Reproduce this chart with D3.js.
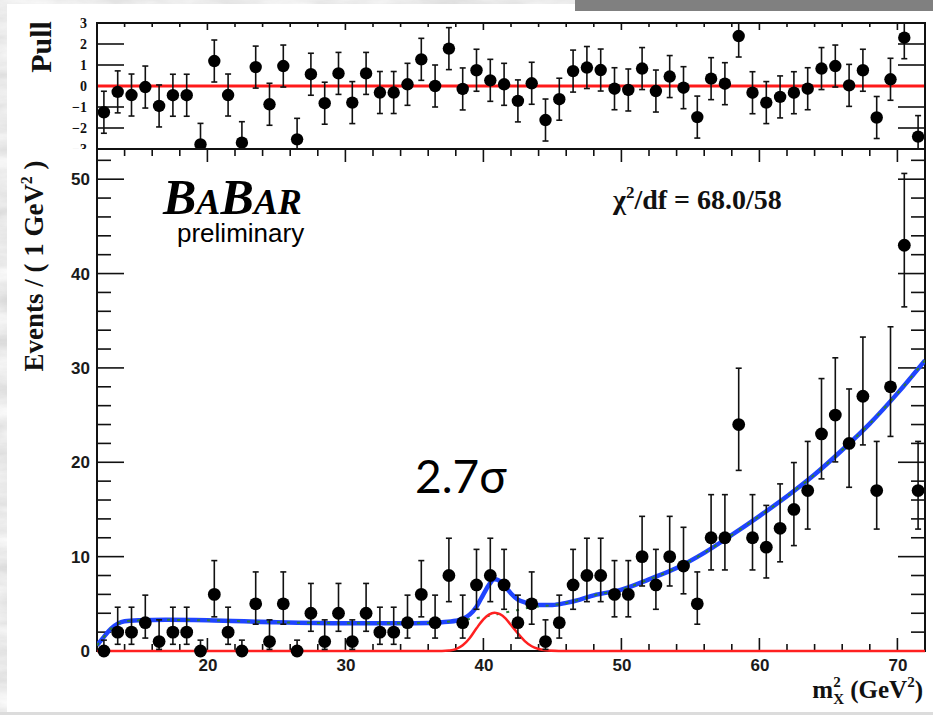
<!DOCTYPE html>
<html>
<head>
<meta charset="utf-8">
<script src="https://cdn.jsdelivr.net/npm/d3@7"></script>
<style>
  html, body { margin: 0; padding: 0; background: #fff; }
  svg { display: block; }
</style>
</head>
<body>
<svg id="chart" width="933" height="715"></svg>
<script>
// ---- Data: m_X^2 spectrum in 1 GeV^2 bins, fit projection and pulls ----
const binCenters = [
  12.5, 13.5, 14.5, 15.5, 16.5, 17.5, 18.5, 19.5, 20.5, 21.5,
  22.5, 23.5, 24.5, 25.5, 26.5, 27.5, 28.5, 29.5, 30.5, 31.5,
  32.5, 33.5, 34.5, 35.5, 36.5, 37.5, 38.5, 39.5, 40.5, 41.5,
  42.5, 43.5, 44.5, 45.5, 46.5, 47.5, 48.5, 49.5, 50.5, 51.5,
  52.5, 53.5, 54.5, 55.5, 56.5, 57.5, 58.5, 59.5, 60.5, 61.5,
  62.5, 63.5, 64.5, 65.5, 66.5, 67.5, 68.5, 69.5, 70.5, 71.5
];
const counts = [
  0, 2, 2, 3, 1, 2, 2, 0, 6, 2,
  0, 5, 1, 5, 0, 4, 1, 4, 1, 4,
  2, 2, 3, 6, 3, 8, 3, 7, 8, 7,
  3, 5, 1, 3, 7, 8, 8, 6, 6, 10,
  7, 10, 9, 5, 12, 12, 24, 12, 11, 13,
  15, 17, 23, 25, 22, 27, 17, 28, 43, 17
];
// asymmetric (Poisson) error bars
const errLow = [
  0, 1.29, 1.29, 1.63, 0.83, 1.29, 1.29, 0, 2.38, 1.29,
  0, 2.16, 0.83, 2.16, 0, 1.91, 0.83, 1.91, 0.83, 1.91,
  1.29, 1.29, 1.63, 2.38, 1.63, 2.77, 1.63, 2.58, 2.77, 2.58,
  1.63, 2.16, 0.83, 1.63, 2.58, 2.77, 2.77, 2.38, 2.38, 3.11,
  2.58, 3.11, 2.94, 2.16, 3.41, 3.41, 4.86, 3.41, 3.26, 3.55,
  3.83, 4.08, 4.76, 4.96, 4.65, 5.16, 4.08, 5.26, 6.53, 4.08
];
const errHigh = [
  1.15, 2.64, 2.64, 2.92, 2.30, 2.64, 2.64, 1.15, 3.58, 2.64,
  1.15, 3.38, 2.30, 3.38, 1.15, 3.16, 2.30, 3.16, 2.30, 3.16,
  2.64, 2.64, 2.92, 3.58, 2.92, 3.95, 2.92, 3.77, 3.95, 3.77,
  2.92, 3.38, 2.30, 2.92, 3.77, 3.95, 3.95, 3.58, 3.58, 4.27,
  3.77, 4.27, 4.11, 3.38, 4.57, 4.57, 5.97, 4.57, 4.43, 4.71,
  4.97, 5.21, 5.87, 6.07, 5.77, 6.27, 5.21, 6.36, 7.61, 5.21
];
const pulls = [
  -1.25, -0.28, -0.43, -0.05, -0.95, -0.44, -0.44, -2.78, 1.19, -0.43,
  -2.70, 0.90, -0.87, 0.95, -2.54, 0.56, -0.82, 0.60, -0.79, 0.60,
  -0.31, -0.31, 0.08, 1.27, 0.00, 1.78, -0.14, 0.75, 0.27, 0.08,
  -0.71, 0.13, -1.62, -0.63, 0.71, 0.88, 0.76, -0.13, -0.19, 0.83,
  -0.24, 0.45, -0.08, -1.48, 0.35, 0.11, 2.38, -0.32, -0.79, -0.52,
  -0.32, -0.13, 0.83, 0.95, 0.03, 0.75, -1.50, 0.32, 2.30, -2.41
];
const pullErr = 1;

// total fit (signal + background)
const fitX = [12.0, 12.5, 13.0, 13.5, 14.0, 15.0, 17.0, 20.0, 25.0, 30.0, 35.0, 37.0,
  38.0, 38.5, 39.0, 39.5, 40.0, 40.4, 40.8, 41.2, 41.6, 42.0, 42.5, 43.0, 43.5, 44.0,
  45.0, 46.0, 47.0, 48.0, 50.0, 52.0, 54.0, 56.0, 58.0, 60.0, 62.0, 64.0, 66.0, 68.0, 70.0, 72.0];
const fitTotal = [0.6, 1.5, 2.35, 2.9, 3.15, 3.25, 3.3, 3.25, 3.05, 2.95, 2.95, 3.05,
  3.2, 3.4, 3.85, 4.7, 6.0, 7.0, 7.6, 7.4, 6.8, 6.1, 5.45, 5.15, 4.95, 4.88,
  4.88, 5.1, 5.45, 5.9, 6.5, 7.6, 8.8, 10.4, 12.3, 14.3, 16.4, 18.7, 21.3, 24.1, 27.3, 30.8];
// signal component
const sigX = [12.0, 37.0, 37.5, 38.0, 38.5, 39.0, 39.5, 40.0, 40.4, 40.8, 41.2, 41.6,
  42.0, 42.5, 43.0, 43.5, 44.0, 44.5, 45.5, 46.0, 72.0];
const sigY = [0, 0, 0.05, 0.2, 0.6, 1.35, 2.4, 3.35, 3.85, 4.05, 3.9, 3.45,
  2.75, 1.85, 1.05, 0.5, 0.22, 0.08, 0.01, 0, 0];
// background component
const bkgX = [12.0, 12.5, 13.0, 13.5, 14.0, 15.0, 17.0, 20.0, 25.0, 30.0, 35.0, 37.0,
  38.0, 38.5, 39.0, 39.5, 40.0, 40.5, 41.0, 41.5, 42.0, 42.5, 43.0, 43.5, 44.0,
  45.0, 46.0, 47.0, 48.0, 50.0, 52.0, 54.0, 56.0, 58.0, 60.0, 62.0, 64.0, 66.0, 68.0, 70.0, 72.0];
const bkgY = [0.6, 1.5, 2.35, 2.9, 3.15, 3.25, 3.3, 3.25, 3.05, 2.95, 2.95, 3.05,
  3.2, 3.3, 3.4, 3.5, 3.6, 3.75, 3.9, 4.05, 4.2, 4.35, 4.5, 4.62, 4.72,
  4.85, 5.1, 5.45, 5.9, 6.5, 7.6, 8.8, 10.4, 12.3, 14.3, 16.4, 18.7, 21.3, 24.1, 27.3, 30.8];

const xMajorTicks = [20, 30, 40, 50, 60, 70];
const xMinorTicks = [14, 16, 18, 22, 24, 26, 28, 32, 34, 36, 38, 42, 44, 46, 48, 52, 54, 56, 58, 62, 64, 66, 68, 72];
const yMajorTicks = [0, 10, 20, 30, 40, 50];
const yMinorTicks = [2, 4, 6, 8, 12, 14, 16, 18, 22, 24, 26, 28, 32, 34, 36, 38, 42, 44, 46, 48, 52];
const pullTicks = [-3, -2, -1, 0, 1, 2, 3];
const pullTickMarks = [-2, -1, 1, 2];

// ---- Layout ----
const W = 933, H = 715;
const L = 97, R = 925;
const pullTop = 23, split = 149, mainBottom = 651;

const svg = d3.select("#chart");
const defs = svg.append("defs");

// stone-like backdrop texture
const marble = defs.append("filter").attr("id", "marble")
  .attr("x", 0).attr("y", 0).attr("width", "100%").attr("height", "100%");
marble.append("feTurbulence").attr("type", "fractalNoise")
  .attr("baseFrequency", "0.012 0.045").attr("numOctaves", 5).attr("seed", 7);
marble.append("feColorMatrix").attr("type", "matrix")
  .attr("values", "0.45 0 0 0 0.6  0.45 0 0 0 0.6  0.45 0 0 0 0.6  0 0 0 0 1");

defs.append("clipPath").attr("id", "pullClip").append("rect")
  .attr("x", 0).attr("y", 0).attr("width", W).attr("height", split);
defs.append("clipPath").attr("id", "pullFrameClip").append("rect")
  .attr("x", L).attr("y", pullTop).attr("width", R - L).attr("height", split - pullTop);
defs.append("clipPath").attr("id", "mainClip").append("rect")
  .attr("x", L).attr("y", split).attr("width", R - L).attr("height", mainBottom - split + 2);

svg.append("rect").attr("width", W).attr("height", H).attr("filter", "url(#marble)");
svg.append("rect").attr("x", 7).attr("y", 4).attr("width", W - 7).attr("height", 708).attr("fill", "#fff");
svg.append("rect").attr("x", 575).attr("y", 0).attr("width", W - 575).attr("height", 11).attr("fill", "#808080");
svg.append("rect").attr("x", 0).attr("y", 712).attr("width", W).attr("height", 3).attr("fill", "#dcdcdc");

// ---- Scales ----
const x = d3.scaleLinear().domain([12, 72]).range([L, R]);
const y = d3.scaleLinear().domain([0, 53.2]).range([mainBottom, split]);
const yp = d3.scaleLinear().domain([-3, 3]).range([split, pullTop]);

const sansBold = "'Liberation Sans', Arial, sans-serif";
const serif = "'Liberation Serif', 'Times New Roman', serif";

// tick helpers
function ticksV(g, scale, vals, x0, len) {
  g.selectAll(null).data(vals).join("line")
    .attr("x1", x0).attr("x2", x0 + len)
    .attr("y1", d => scale(d)).attr("y2", d => scale(d))
    .attr("stroke", "#111").attr("stroke-width", 1.6);
}
function ticksH(g, scale, vals, y0, len) {
  g.selectAll(null).data(vals).join("line")
    .attr("y1", y0).attr("y2", y0 + len)
    .attr("x1", d => scale(d)).attr("x2", d => scale(d))
    .attr("stroke", "#111").attr("stroke-width", 1.6);
}

// ================= Pull panel =================
const pull = svg.append("g").attr("clip-path", "url(#pullClip)");

const pAxis = pull.append("g").attr("transform", `translate(${L},0)`)
  .call(d3.axisLeft(yp).tickValues(pullTicks).tickSize(0).tickPadding(10).tickFormat(d3.format("d")));
pAxis.select(".domain").remove();
pAxis.selectAll("text").attr("font-family", serif).attr("font-weight", "bold")
  .attr("font-size", 14).attr("fill", "#111");

ticksV(pull, yp, pullTickMarks, L, 27);
ticksV(pull, yp, pullTickMarks, R, -27);
ticksH(pull, x, xMajorTicks, pullTop, 7);
ticksH(pull, x, xMinorTicks, pullTop, 4);

// zero line
pull.append("line").attr("x1", L).attr("x2", R).attr("y1", yp(0)).attr("y2", yp(0))
  .attr("stroke", "#ff1a1a").attr("stroke-width", 3);

// pull error bars and markers
const pBars = pull.append("g").attr("clip-path", "url(#pullFrameClip)");
pBars.selectAll(null).data(binCenters).join("line")
  .attr("x1", d => x(d)).attr("x2", d => x(d))
  .attr("y1", (d, i) => yp(pulls[i] - pullErr)).attr("y2", (d, i) => yp(pulls[i] + pullErr))
  .attr("stroke", "#111").attr("stroke-width", 1.6);
[-1, 1].forEach(s => {
  pBars.selectAll(null).data(binCenters).join("line")
    .attr("x1", d => x(d) - 3).attr("x2", d => x(d) + 3)
    .attr("y1", (d, i) => yp(pulls[i] + s * pullErr)).attr("y2", (d, i) => yp(pulls[i] + s * pullErr))
    .attr("stroke", "#111").attr("stroke-width", 1.6);
});
pull.selectAll(null).data(binCenters).join("circle")
  .attr("cx", d => x(d)).attr("cy", (d, i) => yp(pulls[i])).attr("r", 6.2).attr("fill", "#000");

pull.append("rect").attr("x", L).attr("y", pullTop).attr("width", R - L).attr("height", split - pullTop)
  .attr("fill", "none").attr("stroke", "#111").attr("stroke-width", 2);

svg.append("text").attr("transform", "translate(51,47) rotate(-90)")
  .attr("text-anchor", "middle").attr("font-family", serif).attr("font-weight", "bold")
  .attr("font-size", 30).attr("fill", "#111").text("Pull");

// ================= Main panel =================
const main = svg.append("g");

const yAx = main.append("g").attr("transform", `translate(${L},0)`)
  .call(d3.axisLeft(y).tickValues(yMajorTicks).tickSize(0).tickPadding(7));
yAx.select(".domain").remove();
yAx.selectAll("text").attr("font-family", sansBold).attr("font-weight", "bold")
  .attr("font-size", 17).attr("fill", "#1a1a1a");

const xAx = main.append("g").attr("transform", `translate(0,${mainBottom})`)
  .call(d3.axisBottom(x).tickValues(xMajorTicks).tickSize(0).tickPadding(8));
xAx.select(".domain").remove();
xAx.selectAll("text").attr("font-family", sansBold).attr("font-weight", "bold")
  .attr("font-size", 17).attr("fill", "#1a1a1a");

ticksV(main, y, yMajorTicks, L, 27);
ticksV(main, y, yMinorTicks, L, 14);
ticksV(main, y, yMajorTicks, R, -27);
ticksV(main, y, yMinorTicks, R, -14);
ticksH(main, x, xMajorTicks, mainBottom, -13);
ticksH(main, x, xMinorTicks, mainBottom, -7);
ticksH(main, x, xMajorTicks, split, 13);
ticksH(main, x, xMinorTicks, split, 7);

main.append("rect").attr("x", L).attr("y", split).attr("width", R - L).attr("height", mainBottom - split)
  .attr("fill", "none").attr("stroke", "#111").attr("stroke-width", 2);

// fit curves
const curves = main.append("g").attr("clip-path", "url(#mainClip)");
const lineOf = (xs, ys) => d3.line().x(d => x(d)).y((d, i) => y(ys[i])).curve(d3.curveMonotoneX)(xs);

curves.append("path").attr("d", lineOf(fitX, fitTotal))
  .attr("fill", "none").attr("stroke", "#1f44ff").attr("stroke-width", 4.5)
  .attr("stroke-linejoin", "round");
curves.append("path").attr("d", lineOf(bkgX, bkgY))
  .attr("fill", "none").attr("stroke", "#2f7d36").attr("stroke-width", 2)
  .attr("stroke-dasharray", "3,7");
curves.append("path").attr("d", lineOf(sigX, sigY))
  .attr("fill", "none").attr("stroke", "#ff2020").attr("stroke-width", 2.5);

// data error bars and markers
const bars = main.append("g");
bars.selectAll(null).data(binCenters).join("line")
  .attr("x1", d => x(d)).attr("x2", d => x(d))
  .attr("y1", (d, i) => y(counts[i] - errLow[i])).attr("y2", (d, i) => y(counts[i] + errHigh[i]))
  .attr("stroke", "#111").attr("stroke-width", 1.6);
bars.selectAll(null).data(binCenters).join("line")
  .attr("x1", d => x(d) - 3).attr("x2", d => x(d) + 3)
  .attr("y1", (d, i) => y(counts[i] + errHigh[i])).attr("y2", (d, i) => y(counts[i] + errHigh[i]))
  .attr("stroke", "#111").attr("stroke-width", 1.6);
bars.selectAll(null).data(binCenters).join("line")
  .attr("x1", d => x(d) - 3).attr("x2", d => x(d) + 3)
  .attr("y1", (d, i) => y(counts[i] - errLow[i])).attr("y2", (d, i) => y(counts[i] - errLow[i]))
  .attr("stroke", "#111").attr("stroke-width", 1.6);
main.selectAll(null).data(binCenters).join("circle")
  .attr("cx", d => x(d)).attr("cy", (d, i) => y(counts[i])).attr("r", 6.4).attr("fill", "#000");

// ---- Titles and annotations ----
const yTitle = svg.append("text").attr("transform", "translate(43,266) rotate(-90)")
  .attr("text-anchor", "middle").attr("font-family", serif).attr("font-weight", "bold")
  .attr("font-size", 27).attr("fill", "#111");
yTitle.append("tspan").text("Events / ( 1 GeV");
yTitle.append("tspan").attr("font-size", 16).attr("dy", -11).text("2");
yTitle.append("tspan").attr("dy", 11).text(" )");

const xTitle = svg.append("text").attr("x", 923).attr("y", 698)
  .attr("text-anchor", "end").attr("font-family", serif).attr("font-weight", "bold")
  .attr("font-size", 25).attr("fill", "#111");
xTitle.append("tspan").text("m");
xTitle.append("tspan").attr("font-size", 15).attr("dy", -11).text("2");
xTitle.append("tspan").attr("font-size", 15).attr("dx", -7.5).attr("dy", 17).text("X");
xTitle.append("tspan").attr("dy", -6).text(" (GeV");
xTitle.append("tspan").attr("font-size", 15).attr("dy", -11).text("2");
xTitle.append("tspan").attr("dy", 11).text(")");

const chi = svg.append("text").attr("x", 613).attr("y", 209)
  .attr("font-family", serif).attr("font-weight", "bold").attr("font-size", 28).attr("fill", "#111");
chi.append("tspan").text("χ");
chi.append("tspan").attr("font-size", 17).attr("dy", -11).text("2");
chi.append("tspan").attr("dy", 11).text("/df = 68.0/58");

const logo = svg.append("text").attr("x", 163).attr("y", 214)
  .attr("font-family", serif).attr("font-weight", "bold").attr("font-style", "italic").attr("fill", "#000");
logo.append("tspan").attr("font-size", 50).text("B");
logo.append("tspan").attr("font-size", 36).text("A");
logo.append("tspan").attr("font-size", 50).text("B");
logo.append("tspan").attr("font-size", 36).text("AR");

svg.append("text").attr("x", 177).attr("y", 242)
  .attr("font-family", "'Liberation Sans', Arial, sans-serif").attr("font-size", 26)
  .attr("fill", "#000").text("preliminary");

svg.append("text").attr("x", 415).attr("y", 493)
  .attr("font-family", "Lato, 'Open Sans', sans-serif").attr("font-size", 46)
  .attr("fill", "#000").text("2.7σ");
</script>
</body>
</html>
